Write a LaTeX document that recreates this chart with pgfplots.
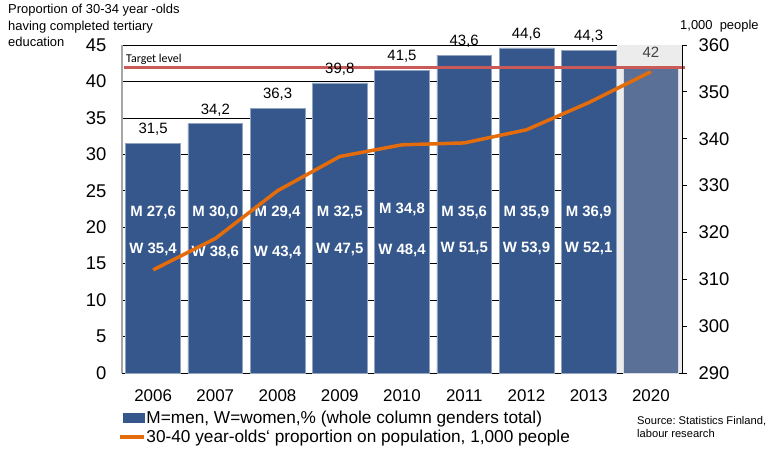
\documentclass[border=0pt]{standalone}
\usepackage{fontspec}
\setmainfont{Liberation Sans}
\newfontfamily\calibri{Carlito}
\usepackage{pgfplots}
\pgfplotsset{compat=1.18}

\definecolor{barblue}{HTML}{35578C}
\definecolor{barlight}{HTML}{5A7096}
\definecolor{bggray}{HTML}{ECECEC}
\definecolor{lineorange}{HTML}{E46C0A}
\definecolor{targetred}{HTML}{C95A58}

\begin{document}
\frenchspacing
\begin{tikzpicture}
\begin{axis}[
  name=ax, at={(0,0)}, anchor=south west,
  scale only axis, width=560bp, height=328bp,
  xmin=-0.5, xmax=8.5, ymin=0, ymax=45,
  xtick={0,...,8},
  xticklabels={2006,2007,2008,2009,2010,2011,2012,2013,2020},
  ytick={0,5,...,45},
  major tick length=0pt,
  separate axis lines,
  x axis line style={black, line width=0.8bp},
  y axis line style={gray!70, line width=1.5bp},
  ymajorgrids, grid style={black, line width=0.6bp},
  /pgf/number format/assume math mode=true,
  yticklabel style={font=\fontsize{18.5}{20}\selectfont, xshift=-12bp},
  xticklabel style={font=\fontsize{17}{20}\selectfont, yshift=-13bp},
  clip=false,
]
% background of the target year
\addplot[fill=bggray, draw=none] coordinates {(7.46,0) (8.5,0) (8.5,45) (7.46,45)} -- cycle;
% tertiary education, % of 30-34 year olds
\addplot[ybar, bar width=0.88, fill=barblue, draw=barblue!55!white, line width=0.6bp,
  nodes near coords,
  nodes near coords style={black, font=\fontsize{15}{17}\selectfont, yshift=4bp,
    /pgf/number format/.cd, fixed, precision=1, fixed zerofill, use comma}]
  coordinates {(0,31.5) (1,34.2) (2,36.3) (3,39.8) (4,41.5) (5,43.6) (6,44.6) (7,44.3)};
\addplot[ybar, bar width=0.87, fill=barlight, draw=white!75!barlight, line width=0.8bp,
  nodes near coords,
  nodes near coords style={black!75, font=\fontsize{15}{17}\selectfont, yshift=6bp}]
  coordinates {(8,42)};
% men / women shares
\addplot[draw=none, mark=none, nodes near coords, point meta=explicit symbolic,
  nodes near coords style={anchor=center, white, font=\bfseries\fontsize{15}{17}\selectfont}]
  coordinates {(0,22)[M 27,6] (1,22)[M 30,0] (2,22)[M 29,4] (3,22)[M 32,5]
    (4,22.4)[M 34,8] (5,22)[M 35,6] (6,22)[M 35,9] (7,22)[M 36,9]};
\addplot[draw=none, mark=none, nodes near coords, point meta=explicit symbolic,
  nodes near coords style={anchor=center, white, font=\bfseries\fontsize{15}{17}\selectfont}]
  coordinates {(0,16.9)[W 35,4] (1,16.6)[W 38,6] (2,16.6)[W 43,4] (3,16.9)[W 47,5]
    (4,16.8)[W 48,4] (5,17.1)[W 51,5] (6,17.1)[W 53,9] (7,17.1)[W 52,1]};
% target level
\addplot[targetred, line width=2.6bp] coordinates {(-0.47,41.9) (8.55,41.9)};
\end{axis}

\begin{axis}[
  at={(0,0)}, anchor=south west,
  scale only axis, width=560bp, height=328bp,
  xmin=-0.5, xmax=8.5, ymin=290, ymax=360,
  ytick={290,300,...,360},
  axis y line*=right, axis x line=none,
  y axis line style={black, line width=0.8bp},
  tick align=outside, major tick length=5bp,
  ytick style={black, line width=0.8bp},
  /pgf/number format/assume math mode=true,
  yticklabel style={font=\fontsize{18.5}{20}\selectfont, xshift=8bp},
  legend style={at={(-0.012,-0.108)}, anchor=north west, draw=none, fill=none,
    font=\fontsize{17.3}{19}\selectfont, row sep=4bp,
    nodes={inner sep=0.5bp}},
  legend cell align=left,
  clip=false,
]
\addlegendimage{legend image code/.code={\fill[barblue] (3bp,-4.5bp) rectangle (24bp,5bp);}}
\addlegendentry{M=men, W=women,\% (whole column genders total)}
\addplot[lineorange, line width=3.5bp,
  legend image code/.code={\draw[lineorange, line width=3.5bp] (0bp,0bp) -- (24bp,0bp);}]
  coordinates {(0,312.0) (1,318.7) (2,328.9) (3,336.2) (4,338.7) (5,339.1) (6,341.9) (7,347.7) (8,354.3)};
\addlegendentry{30-40 year-olds{\char"0060} proportion on population, 1,000 people}
\end{axis}

\node[anchor=north west, align=left, inner sep=0pt, font=\fontsize{13}{16.5}\selectfont]
  at ([shift={(-114bp,369bp)}]ax.south west)
  {Proportion of 30-34 year -olds\\having completed tertiary\\education};
\node[anchor=west, inner sep=0pt, font=\fontsize{13}{15}\selectfont]
  at ([shift={(558bp,347bp)}]ax.south west) {1,000\ \ people};
\node[anchor=west, inner sep=0pt, font=\calibri\fontsize{12}{14}\selectfont]
  at ([shift={(4bp,314bp)}]ax.south west) {Target level};
\node[anchor=north west, align=left, inner sep=0pt, font=\fontsize{11.2}{13.5}\selectfont]
  at ([shift={(515bp,-43bp)}]ax.south west) {Source: Statistics Finland,\\labour research};

\pgfresetboundingbox
\path ([shift={(-122bp,-76bp)}]ax.south west) rectangle ++(768bp,449bp);
\end{tikzpicture}
\end{document}
